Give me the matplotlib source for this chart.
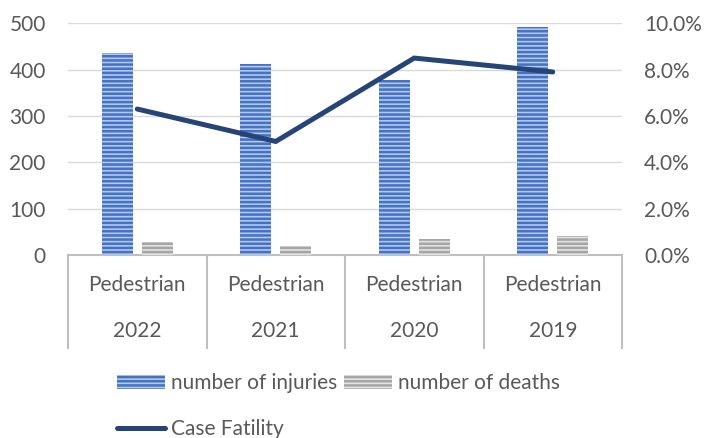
import matplotlib
matplotlib.use("Agg")
import matplotlib.pyplot as plt
import numpy as np
from matplotlib.patches import Patch
from matplotlib.lines import Line2D
from matplotlib.ticker import PercentFormatter, MultipleLocator

# Data
groups = ["Pedestrian", "Pedestrian", "Pedestrian", "Pedestrian"]
years = ["2022", "2021", "2020", "2019"]
injuries = [435, 412, 377, 491]
deaths = [28, 20, 35, 42]
case_fatality = [6.3, 4.9, 8.5, 7.9]  # percent

plt.rcParams["font.family"] = ["Lato", "DejaVu Sans"]
plt.rcParams["hatch.linewidth"] = 1.8

TEXT = "#595959"
GRID = "#d9d9d9"
FRAME = "#bfbfbf"
BLUE = "#4472C4"
GREY = "#a5a5a5"
NAVY = "#264478"
FS = 15

fig = plt.figure(figsize=(7.07, 4.38), dpi=100)
W, H = 707, 438
left, right, top, bottom = 68, 622, 23.3, 255
ax = fig.add_axes([left / W, 1 - bottom / H, (right - left) / W, (bottom - top) / H])
ax2 = ax.twinx()

x = np.arange(len(years))
bw = 0.224
off = 0.144

ax.bar(x - off, injuries, bw, facecolor="#b4c7ea", edgecolor=BLUE, linewidth=0,
       hatch="----", zorder=3)
ax.bar(x + off, deaths, bw, facecolor="#e2e2e2", edgecolor=GREY, linewidth=0,
       hatch="----", zorder=3)

ax2.plot(x, case_fatality, color=NAVY, linewidth=3.6, solid_capstyle="round",
         solid_joinstyle="miter", zorder=4)

ax.set_xlim(-0.5, len(years) - 0.5)
ax.set_ylim(0, 500)
ax.yaxis.set_major_locator(MultipleLocator(100))
ax2.set_ylim(0, 10)
ax2.yaxis.set_major_locator(MultipleLocator(2))
ax2.yaxis.set_major_formatter(PercentFormatter(decimals=1))

ax.grid(axis="y", color=GRID, linewidth=1.0, zorder=0)
ax.set_axisbelow(True)
for a in (ax, ax2):
    for s in a.spines.values():
        s.set_visible(False)
    a.tick_params(length=0, labelsize=FS, labelcolor=TEXT, pad=16)
ax.set_xticks([])
ax.spines["bottom"].set_visible(True)
ax.spines["bottom"].set_color(FRAME)
ax.spines["bottom"].set_linewidth(1.5)

# Category table below the axis
trans = ax.get_xaxis_transform()
for b in np.arange(-0.5, len(years), 1.0):
    ax.add_line(Line2D([b, b], [0, -0.40], transform=trans, color=FRAME,
                       linewidth=1.5, clip_on=False))
for xi, g, yr in zip(x, groups, years):
    ax.text(xi, -0.129, g, transform=trans, ha="center", va="center",
            fontsize=FS, color=TEXT)
    ax.text(xi, -0.33, yr, transform=trans, ha="center", va="center",
            fontsize=FS, color=TEXT)

handles = [
    Patch(facecolor="#b4c7ea", edgecolor=BLUE, linewidth=0, hatch="----",
          label="number of injuries"),
    Line2D([], [], color=NAVY, linewidth=3.6, solid_capstyle="round",
           label="Case Fatility"),
    Patch(facecolor="#e2e2e2", edgecolor=GREY, linewidth=0, hatch="----",
          label="number of deaths"),
]
fig.legend(handles=handles, ncol=2, loc="upper left",
           bbox_to_anchor=(117 / W, 1 - 373 / H), frameon=False,
           fontsize=FS, labelcolor=TEXT, handlelength=2.3, handleheight=0.67,
           handletextpad=0.29, columnspacing=0.33, labelspacing=1.25,
           borderpad=0, borderaxespad=0)

fig.savefig("out.png", dpi=100)
